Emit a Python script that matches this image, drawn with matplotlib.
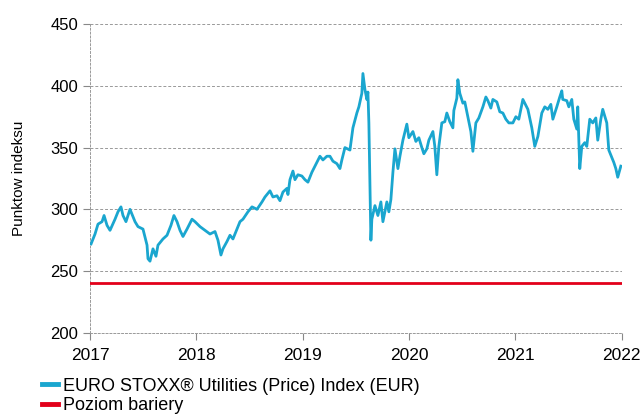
import matplotlib
matplotlib.use("Agg")
import matplotlib.pyplot as plt
import numpy as np

plt.rcParams["font.family"] = ["Liberation Sans", "DejaVu Sans"]

# decimal year offsets from 2017 and index level
years = [
    0.01, 0.047, 0.075, 0.113, 0.132, 0.160, 0.188, 0.235, 0.263, 0.291,
    0.310, 0.338, 0.376, 0.395, 0.423, 0.451, 0.498, 0.536, 0.545, 0.564,
    0.592, 0.620, 0.639, 0.686, 0.724, 0.761, 0.789, 0.818, 0.846, 0.874,
    0.912, 0.959, 0.987, 1.034, 1.081, 1.128, 1.175, 1.203, 1.231, 1.250,
    1.288, 1.316, 1.344, 1.382, 1.410, 1.438, 1.485, 1.523, 1.570, 1.617,
    1.645, 1.664, 1.692, 1.720, 1.758, 1.786, 1.814, 1.852, 1.861, 1.880,
    1.908, 1.927, 1.955, 1.992, 2.021, 2.049, 2.086, 2.115, 2.162, 2.190,
    2.227, 2.256, 2.284, 2.321, 2.350, 2.368, 2.397, 2.444, 2.472, 2.509,
    2.528, 2.556, 2.566, 2.585, 2.603, 2.613, 2.622, 2.641, 2.650, 2.679,
    2.707, 2.735, 2.754, 2.791, 2.810, 2.829, 2.848, 2.867, 2.895, 2.914,
    2.942, 2.979, 2.998, 3.036, 3.064, 3.092, 3.120, 3.139, 3.167, 3.186,
    3.224, 3.242, 3.261, 3.280, 3.308, 3.336, 3.355, 3.383, 3.412, 3.421,
    3.449, 3.459, 3.477, 3.506, 3.524, 3.553, 3.581, 3.600, 3.628, 3.656,
    3.694, 3.722, 3.741, 3.769, 3.788, 3.825, 3.853, 3.882, 3.910, 3.938,
    3.976, 4.004, 4.032, 4.070, 4.088, 4.117, 4.154, 4.182, 4.211, 4.248,
    4.276, 4.305, 4.333, 4.352, 4.389, 4.417, 4.436, 4.445, 4.483, 4.502,
    4.530, 4.549, 4.577, 4.586, 4.605, 4.624, 4.652, 4.671, 4.699, 4.727,
    4.756, 4.774, 4.803, 4.821, 4.859, 4.878, 4.906, 4.925, 4.944, 4.962,
    4.991,
]
index_values = [
    272, 280, 288, 290, 295, 287, 283, 292, 298, 302,
    295, 290, 300, 296, 290, 286, 284, 271, 260, 258,
    268, 262, 271, 276, 279, 287, 295, 290, 283, 278,
    284, 292, 290, 286, 283, 280, 282, 275, 263, 268,
    274, 279, 276, 284, 290, 292, 298, 302, 300, 306,
    310, 312, 315, 310, 311, 307, 314, 317, 312, 324,
    331, 324, 328, 327, 324, 322, 330, 335, 343, 340,
    343, 343, 339, 337, 333, 340, 350, 348, 366, 378,
    383, 394, 410, 397, 389, 395, 370, 275, 292, 303,
    295, 306, 290, 306, 298, 308, 330, 349, 333, 343,
    356, 369, 358, 363, 355, 358, 350, 345, 349, 356,
    363, 351, 328, 351, 370, 371, 378, 371, 366, 380,
    390, 405, 394, 386, 387, 375, 363, 347, 370, 374,
    383, 391, 388, 382, 389, 387, 379, 378, 373, 370,
    370, 375, 373, 389, 386, 381, 366, 351, 359, 378,
    383, 381, 385, 373, 383, 391, 396, 389, 388, 383,
    389, 373, 365, 383, 333, 351, 354, 351, 373, 370,
    374, 356, 373, 381, 370, 348, 342, 338, 333, 326,
    335,
]
barrier_level = 240
year_ticks = [2017, 2018, 2019, 2020, 2021, 2022]
y_ticks = [200, 250, 300, 350, 400, 450]

series_label = "EURO STOXX® Utilities (Price) Index (EUR)"
barrier_label = "Poziom bariery"

fig = plt.figure(figsize=(6.43, 4.16), dpi=100)
ax = fig.add_axes([0.140, 0.200, 0.827, 0.742])

x = 2017 + np.array(years)
ax.plot(x, index_values, color="#1aa6cf", lw=2.0, label=series_label, zorder=3)
ax.plot([2017, 2022], [barrier_level, barrier_level], color="#e2001a", lw=2.0,
        label=barrier_label, zorder=3)

ax.set_xlim(2017, 2022)
ax.set_ylim(200, 450)
ax.set_xticks(year_ticks)
ax.set_yticks(y_ticks)
ax.tick_params(axis="y", labelsize=12, color="#888888", length=5, width=0.8)
ax.tick_params(axis="x", labelsize=12.5, color="#888888", length=5, width=0.8, pad=6)
ax.grid(axis="y", color="#999999", linestyle=(0, (3, 2)), linewidth=0.7)
for side in ["top", "right"]:
    ax.spines[side].set_visible(False)
for side in ["left", "bottom"]:
    ax.spines[side].set_color("#999999")
    ax.spines[side].set_linestyle((0, (2, 2)))
    ax.spines[side].set_linewidth(0.7)

ax.set_ylabel("Punktow indeksu", fontsize=11)
ax.yaxis.set_label_coords(-0.12, 0.5)

leg = fig.legend(loc="upper left", bbox_to_anchor=(0.065, 0.092), frameon=False,
                 handlelength=0.9, handletextpad=0.3, labelspacing=0.15,
                 borderpad=0, borderaxespad=0,
                 prop={"size": 13})
for line in leg.get_lines():
    line.set_linewidth(3.5)

fig.savefig("out.png", dpi=100)
